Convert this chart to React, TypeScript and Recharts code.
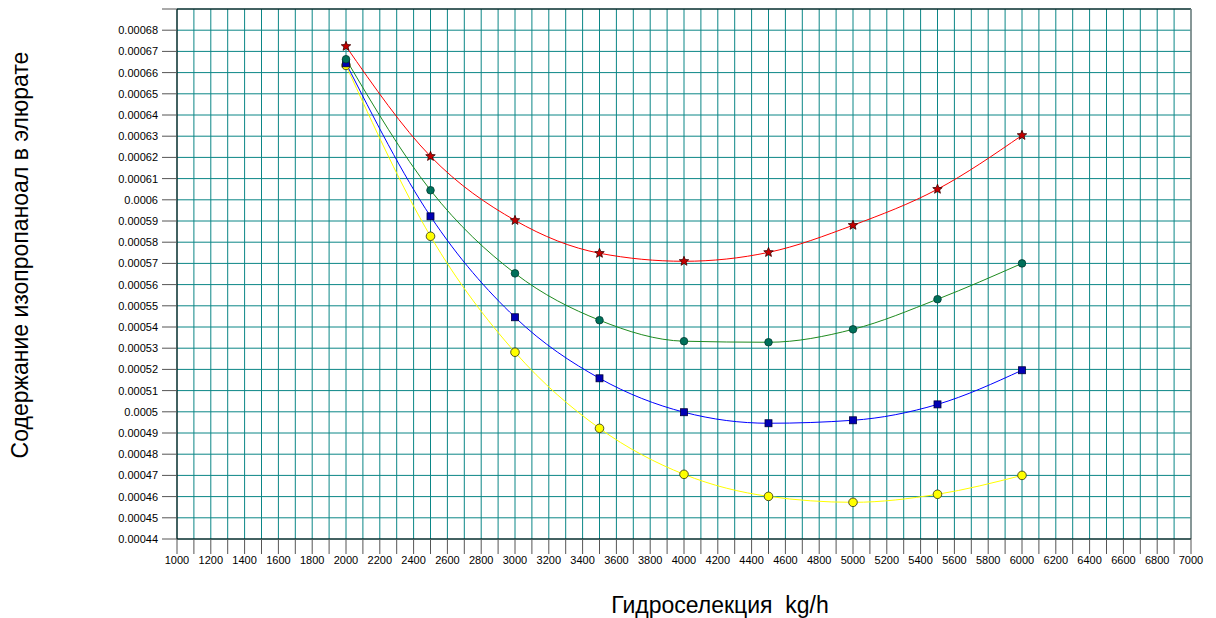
import React from 'react';
import {
  LineChart,
  Line,
  XAxis,
  YAxis,
  CartesianGrid,
  ReferenceLine,
} from 'recharts';

const flows = [2000, 2500, 3000, 3500, 4000, 4500, 5000, 5500, 6000];

const redSeries = [0.0006724, 0.0006205, 0.0005903, 0.0005748, 0.000571, 0.0005752, 0.000588, 0.000605, 0.0006304];
const greenSeries = [0.0006663, 0.0006045, 0.0005653, 0.0005432, 0.0005333, 0.0005328, 0.0005389, 0.0005531, 0.00057];
const blueSeries = [0.0006644, 0.0005922, 0.0005446, 0.0005158, 0.0004998, 0.0004946, 0.000496, 0.0005035, 0.0005196];
const yellowSeries = [0.0006634, 0.0005828, 0.0005281, 0.0004922, 0.0004705, 0.0004601, 0.0004573, 0.0004611, 0.00047];

const xTicks = [
  1000, 1100, 1200, 1300, 1400, 1500, 1600, 1700, 1800, 1900, 2000, 2100, 2200, 2300, 2400, 2500,
  2600, 2700, 2800, 2900, 3000, 3100, 3200, 3300, 3400, 3500, 3600, 3700, 3800, 3900, 4000, 4100,
  4200, 4300, 4400, 4500, 4600, 4700, 4800, 4900, 5000, 5100, 5200, 5300, 5400, 5500, 5600, 5700,
  5800, 5900, 6000, 6100, 6200, 6300, 6400, 6500, 6600, 6700, 6800, 6900, 7000,
];

const yTicks = [
  0.00044, 0.00045, 0.00046, 0.00047, 0.00048, 0.00049, 0.0005, 0.00051, 0.00052, 0.00053,
  0.00054, 0.00055, 0.00056, 0.00057, 0.00058, 0.00059, 0.0006, 0.00061, 0.00062, 0.00063,
  0.00064, 0.00065, 0.00066, 0.00067, 0.00068, 0.00069,
];

const data = flows.map((x, i) => ({
  x,
  red: redSeries[i],
  green: greenSeries[i],
  blue: blueSeries[i],
  yellow: yellowSeries[i],
}));

const GRID = '#0b8686';
const FONT = 'Arial, "Liberation Sans", sans-serif';

function StarDot(props: any) {
  const { cx, cy } = props;
  if (cx == null || cy == null) return null;
  const pts: string[] = [];
  for (let k = 0; k < 10; k++) {
    const r = k % 2 === 0 ? 5 : 2.2;
    const a = -Math.PI / 2 + (k * Math.PI) / 5;
    pts.push(`${cx + r * Math.cos(a)},${cy + r * Math.sin(a)}`);
  }
  return <polygon points={pts.join(' ')} fill="#c40000" stroke="#3a0000" strokeWidth={0.8} />;
}

function GreenDot(props: any) {
  const { cx, cy } = props;
  if (cx == null || cy == null) return null;
  return <circle cx={cx} cy={cy} r={3.8} fill="#00705a" stroke="#003a30" strokeWidth={0.8} />;
}

function BlueDot(props: any) {
  const { cx, cy } = props;
  if (cx == null || cy == null) return null;
  return <rect x={cx - 3.5} y={cy - 3.5} width={7} height={7} fill="#0000b4" stroke="#00003a" strokeWidth={0.8} />;
}

function YellowDot(props: any) {
  const { cx, cy } = props;
  if (cx == null || cy == null) return null;
  return <circle cx={cx} cy={cy} r={4.3} fill="#ffff00" stroke="#404020" strokeWidth={0.9} />;
}

const fmtY = (v: number) => (v > 0.000685 ? '' : String(Number(v.toFixed(5))));
const fmtX = (v: number) => (v % 200 === 0 ? String(v) : '');

export default function App() {
  return (
    <div style={{ position: 'absolute', left: 0, top: 0, width: 1216, height: 618, background: '#fff' }}>
      <LineChart
        width={1216}
        height={618}
        data={data}
        margin={{ top: 9, right: 25, bottom: 0, left: 0 }}
      >
        <CartesianGrid stroke={GRID} strokeWidth={1} />
        <XAxis
          dataKey="x"
          type="number"
          domain={[1000, 7000]}
          ticks={xTicks}
          interval={0}
          tickFormatter={fmtX}
          tickSize={15}
          tickMargin={2}
          height={79}
          stroke="#000"
          tickLine={{ stroke: '#555' }}
          tick={{ fontSize: 11, fill: '#000', fontFamily: FONT }}
        />
        <YAxis
          type="number"
          domain={[0.00044, 0.00069]}
          ticks={yTicks}
          interval={0}
          tickFormatter={fmtY}
          tickSize={15}
          tickMargin={4}
          width={177}
          stroke="#000"
          tickLine={{ stroke: '#555' }}
          tick={{ fontSize: 11, fill: '#000', fontFamily: FONT }}
        />
        <ReferenceLine y={0.00069} stroke="#000" strokeWidth={1} />
        <ReferenceLine x={7000} stroke="#888" strokeWidth={1.5} />
        <Line type="monotone" dataKey="yellow" stroke="#ffff00" strokeWidth={1} dot={<YellowDot />} isAnimationActive={false} />
        <Line type="monotone" dataKey="blue" stroke="#0000ff" strokeWidth={1} dot={<BlueDot />} isAnimationActive={false} />
        <Line type="monotone" dataKey="green" stroke="#1e8a1e" strokeWidth={1} dot={<GreenDot />} isAnimationActive={false} />
        <Line type="monotone" dataKey="red" stroke="#ff0000" strokeWidth={1} dot={<StarDot />} isAnimationActive={false} />
      </LineChart>
      <div
        style={{
          position: 'absolute',
          left: 20,
          top: 255,
          transform: 'translate(-50%, -50%) rotate(-90deg)',
          whiteSpace: 'nowrap',
          fontFamily: FONT,
          fontSize: 23,
          color: '#000',
        }}
      >
        Содержание изопропаноал в элюрате
      </div>
      <div
        style={{
          position: 'absolute',
          left: 720,
          top: 605,
          transform: 'translate(-50%, -50%)',
          whiteSpace: 'pre',
          fontFamily: FONT,
          fontSize: 23,
          color: '#000',
        }}
      >
        {'Гидроселекция  kg/h'}
      </div>
    </div>
  );
}
